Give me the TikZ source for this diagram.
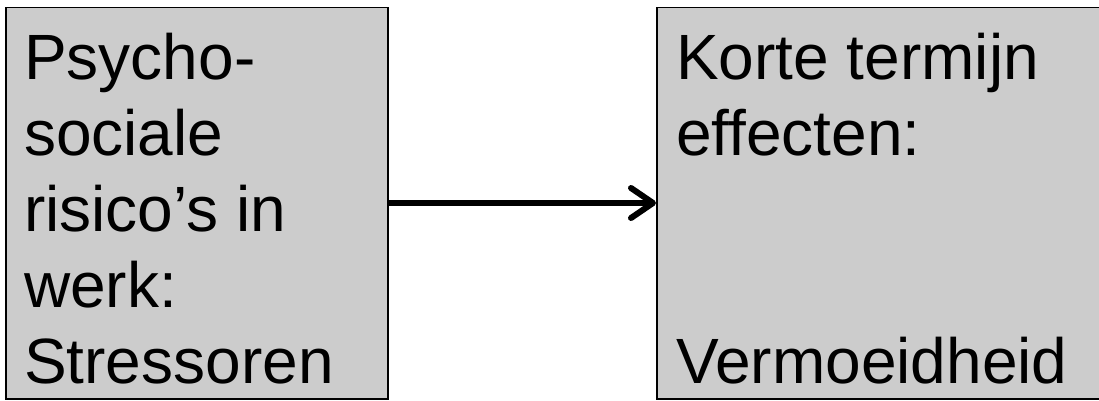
\documentclass[tikz,border=0pt]{standalone}
\usepackage{fontspec}
\setmainfont{Liberation Sans}
\usetikzlibrary{arrows.meta}
\tikzset{
  box/.style={draw=black, line width=1.5pt, fill={rgb,255:red,204;green,204;blue,204}, rectangle, inner sep=0pt, anchor=north west},
  boxtext/.style={anchor=base west, inner sep=0pt, font=\fontsize{64}{76}\selectfont},
  conn/.style={line width=6pt, -{Straight Barb[length=22pt,width=30pt,line cap=round,line join=round]}}
}
\begin{document}
\begin{tikzpicture}[x=1pt,y=1pt]
\useasboundingbox (0,0) rectangle (1099,400);
\clip (0,0) rectangle (1099,400);
\node[box, minimum width=382pt, minimum height=391pt] (L) at (5,393) {};
\node[box, minimum width=460pt, minimum height=391pt] (R) at (656,393) {};
\node[boxtext] (Lt) at (24,321) {\parbox[t]{360pt}{\fontsize{64}{76}\selectfont Psycho-\\sociale\\risico’s in\\werk:\\Stressoren}};
\node[boxtext] (Rt) at (676,321) {\parbox[t]{420pt}{\fontsize{64}{76}\selectfont Korte termijn\\effecten:\\\mbox{}\\\mbox{}\\Vermoeidheid}};
\draw[conn] (L.east |- 0,197) -- (R.west |- 0,197);
\end{tikzpicture}
\end{document}
